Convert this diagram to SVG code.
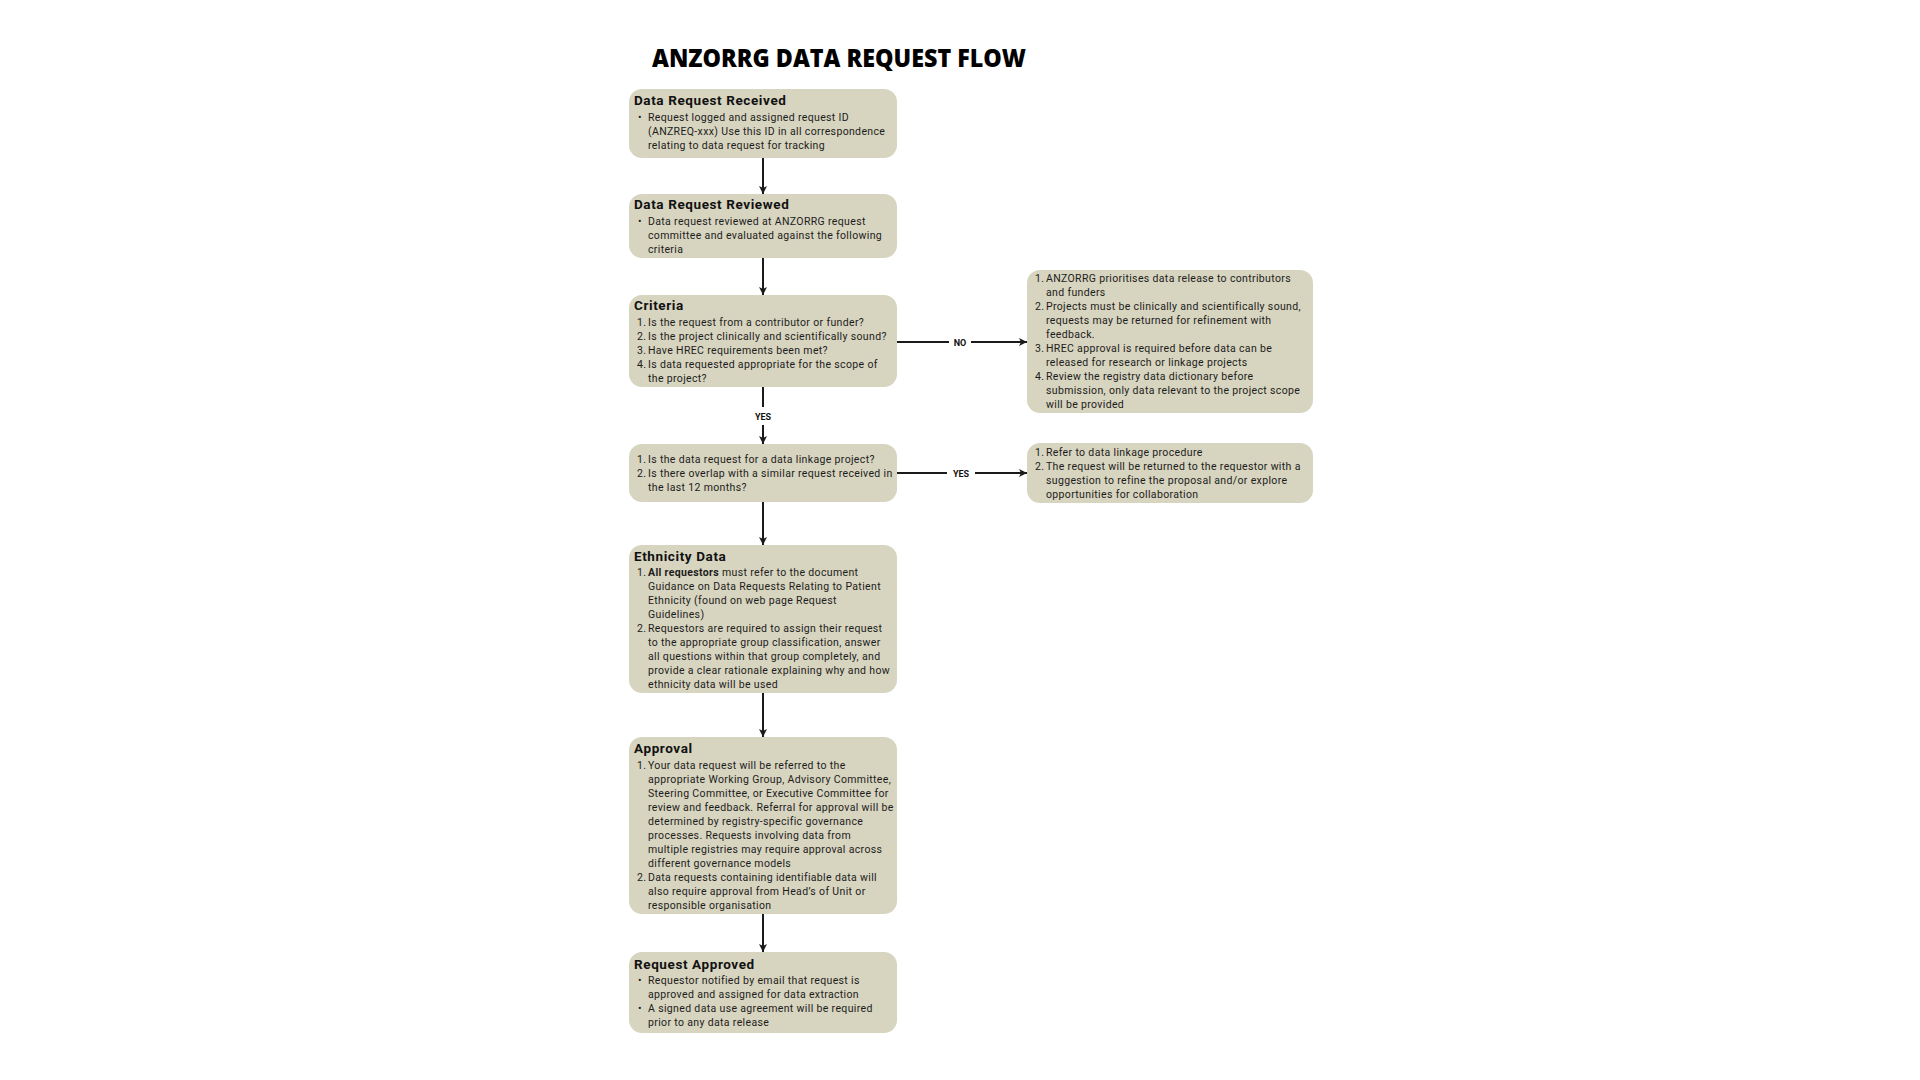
<svg xmlns="http://www.w3.org/2000/svg" width="1920" height="1080" viewBox="0 0 1920 1080">
<defs>
<style>
.box{fill:#D7D4BF;}
.ttl{font-family:Roboto,"Liberation Sans",sans-serif;font-weight:700;font-size:13.5px;letter-spacing:0.6px;fill:#111;}
.txt{font-family:Roboto,"Liberation Sans",sans-serif;font-size:10.5px;letter-spacing:0.35px;fill:#1c1c1c;}
.b{font-weight:700;}
.lbl{font-family:Roboto,"Liberation Sans",sans-serif;font-weight:700;font-size:9px;fill:#111;}
.ln{stroke:#1a1a1a;stroke-width:2;fill:none;}
.arr{marker-end:url(#ah);}
</style>
<marker id="ah" markerUnits="userSpaceOnUse" markerWidth="10" markerHeight="10" refX="9" refY="5" orient="auto">
<path d="M1,1 L9,5 L1,9 L3,5 Z" fill="#1a1a1a"/>
</marker>
</defs>
<rect x="0" y="0" width="1920" height="1080" fill="#ffffff"/>
<text id="title" x="652" y="67" font-family="'Open Sans','Liberation Sans',sans-serif" font-weight="800" font-size="25" fill="#000" textLength="374" lengthAdjust="spacingAndGlyphs">ANZORRG DATA REQUEST FLOW</text>

<g id="connectors">
<line class="ln arr" x1="763" y1="158" x2="763" y2="194"/>
<line class="ln arr" x1="763" y1="258" x2="763" y2="295"/>
<line class="ln" x1="763" y1="387" x2="763" y2="407"/>
<text class="lbl" x="763" y="419.5" text-anchor="middle">YES</text>
<line class="ln arr" x1="763" y1="425" x2="763" y2="444"/>
<line class="ln" x1="897" y1="342" x2="949" y2="342"/>
<text class="lbl" x="960" y="345.5" text-anchor="middle">NO</text>
<line class="ln arr" x1="971" y1="342" x2="1027" y2="342"/>
<line class="ln" x1="897" y1="473" x2="947" y2="473"/>
<text class="lbl" x="961" y="476.5" text-anchor="middle">YES</text>
<line class="ln arr" x1="975" y1="473" x2="1027" y2="473"/>
<line class="ln arr" x1="763" y1="502" x2="763" y2="545"/>
<line class="ln arr" x1="763" y1="693" x2="763" y2="737"/>
<line class="ln arr" x1="763" y1="914" x2="763" y2="952"/>
</g>

<g id="received">
<rect class="box" x="629" y="89" width="268" height="69" rx="13"/>
<text class="ttl" x="634" y="105">Data Request Received</text>
<text class="txt"><tspan x="638" y="121">•</tspan><tspan x="648" y="121">Request logged and assigned request ID</tspan><tspan x="648" y="135">(ANZREQ-xxx) Use this ID in all correspondence</tspan><tspan x="648" y="149">relating to data request for tracking</tspan></text>
</g>

<g id="reviewed">
<rect class="box" x="629" y="194" width="268" height="64" rx="13"/>
<text class="ttl" x="634" y="209">Data Request Reviewed</text>
<text class="txt"><tspan x="638" y="225">•</tspan><tspan x="648" y="225">Data request reviewed at ANZORRG request</tspan><tspan x="648" y="239">committee and evaluated against the following</tspan><tspan x="648" y="253">criteria</tspan></text>
</g>

<g id="criteria">
<rect class="box" x="629" y="295" width="268" height="92" rx="13"/>
<text class="ttl" x="634" y="310">Criteria</text>
<text class="txt"><tspan x="637" y="326">1.</tspan><tspan x="648" y="326">Is the request from a contributor or funder?</tspan><tspan x="637" y="340">2.</tspan><tspan x="648" y="340">Is the project clinically and scientifically sound?</tspan><tspan x="637" y="354">3.</tspan><tspan x="648" y="354">Have HREC requirements been met?</tspan><tspan x="637" y="368">4.</tspan><tspan x="648" y="368">Is data requested appropriate for the scope of</tspan><tspan x="648" y="382">the project?</tspan></text>
</g>

<g id="criteria-notes">
<rect class="box" x="1027" y="270" width="286" height="143" rx="13"/>
<text class="txt"><tspan x="1035" y="282">1.</tspan><tspan x="1046" y="282">ANZORRG prioritises data release to contributors</tspan><tspan x="1046" y="296">and funders</tspan><tspan x="1035" y="310">2.</tspan><tspan x="1046" y="310">Projects must be clinically and scientifically sound,</tspan><tspan x="1046" y="324">requests may be returned for refinement with</tspan><tspan x="1046" y="338">feedback.</tspan><tspan x="1035" y="352">3.</tspan><tspan x="1046" y="352">HREC approval is required before data can be</tspan><tspan x="1046" y="366">released for research or linkage projects</tspan><tspan x="1035" y="380">4.</tspan><tspan x="1046" y="380">Review the registry data dictionary before</tspan><tspan x="1046" y="394">submission, only data relevant to the project scope</tspan><tspan x="1046" y="408">will be provided</tspan></text>
</g>

<g id="linkage">
<rect class="box" x="629" y="444" width="268" height="58" rx="13"/>
<text class="txt"><tspan x="637" y="463">1.</tspan><tspan x="648" y="463">Is the data request for a data linkage project?</tspan><tspan x="637" y="477">2.</tspan><tspan x="648" y="477">Is there overlap with a similar request received in</tspan><tspan x="648" y="491">the last 12 months?</tspan></text>
</g>

<g id="linkage-notes">
<rect class="box" x="1027" y="443" width="286" height="60" rx="13"/>
<text class="txt"><tspan x="1035" y="456">1.</tspan><tspan x="1046" y="456">Refer to data linkage procedure</tspan><tspan x="1035" y="470">2.</tspan><tspan x="1046" y="470">The request will be returned to the requestor with a</tspan><tspan x="1046" y="484">suggestion to refine the proposal and/or explore</tspan><tspan x="1046" y="498">opportunities for collaboration</tspan></text>
</g>

<g id="ethnicity">
<rect class="box" x="629" y="545" width="268" height="148" rx="13"/>
<text class="ttl" x="634" y="561">Ethnicity Data</text>
<text class="txt"><tspan x="637" y="576">1.</tspan><tspan x="648" y="576" class="b">All requestors</tspan><tspan> must refer to the document</tspan><tspan x="648" y="590">Guidance on Data Requests Relating to Patient</tspan><tspan x="648" y="604">Ethnicity (found on web page Request</tspan><tspan x="648" y="618">Guidelines)</tspan><tspan x="637" y="632">2.</tspan><tspan x="648" y="632">Requestors are required to assign their request</tspan><tspan x="648" y="646">to the appropriate group classification, answer</tspan><tspan x="648" y="660">all questions within that group completely, and</tspan><tspan x="648" y="674">provide a clear rationale explaining why and how</tspan><tspan x="648" y="688">ethnicity data will be used</tspan></text>
</g>

<g id="approval">
<rect class="box" x="629" y="737" width="268" height="177" rx="13"/>
<text class="ttl" x="634" y="753">Approval</text>
<text class="txt"><tspan x="637" y="769">1.</tspan><tspan x="648" y="769">Your data request will be referred to the</tspan><tspan x="648" y="783">appropriate Working Group, Advisory Committee,</tspan><tspan x="648" y="797">Steering Committee, or Executive Committee for</tspan><tspan x="648" y="811">review and feedback. Referral for approval will be</tspan><tspan x="648" y="825">determined by registry-specific governance</tspan><tspan x="648" y="839">processes. Requests involving data from</tspan><tspan x="648" y="853">multiple registries may require approval across</tspan><tspan x="648" y="867">different governance models</tspan><tspan x="637" y="881">2.</tspan><tspan x="648" y="881">Data requests containing identifiable data will</tspan><tspan x="648" y="895">also require approval from Head’s of Unit or</tspan><tspan x="648" y="909">responsible organisation</tspan></text>
</g>

<g id="approved">
<rect class="box" x="629" y="952" width="268" height="81" rx="13"/>
<text class="ttl" x="634" y="969">Request Approved</text>
<text class="txt"><tspan x="638" y="984">•</tspan><tspan x="648" y="984">Requestor notified by email that request is</tspan><tspan x="648" y="998">approved and assigned for data extraction</tspan><tspan x="638" y="1012">•</tspan><tspan x="648" y="1012">A signed data use agreement will be required</tspan><tspan x="648" y="1026">prior to any data release</tspan></text>
</g>
</svg>
